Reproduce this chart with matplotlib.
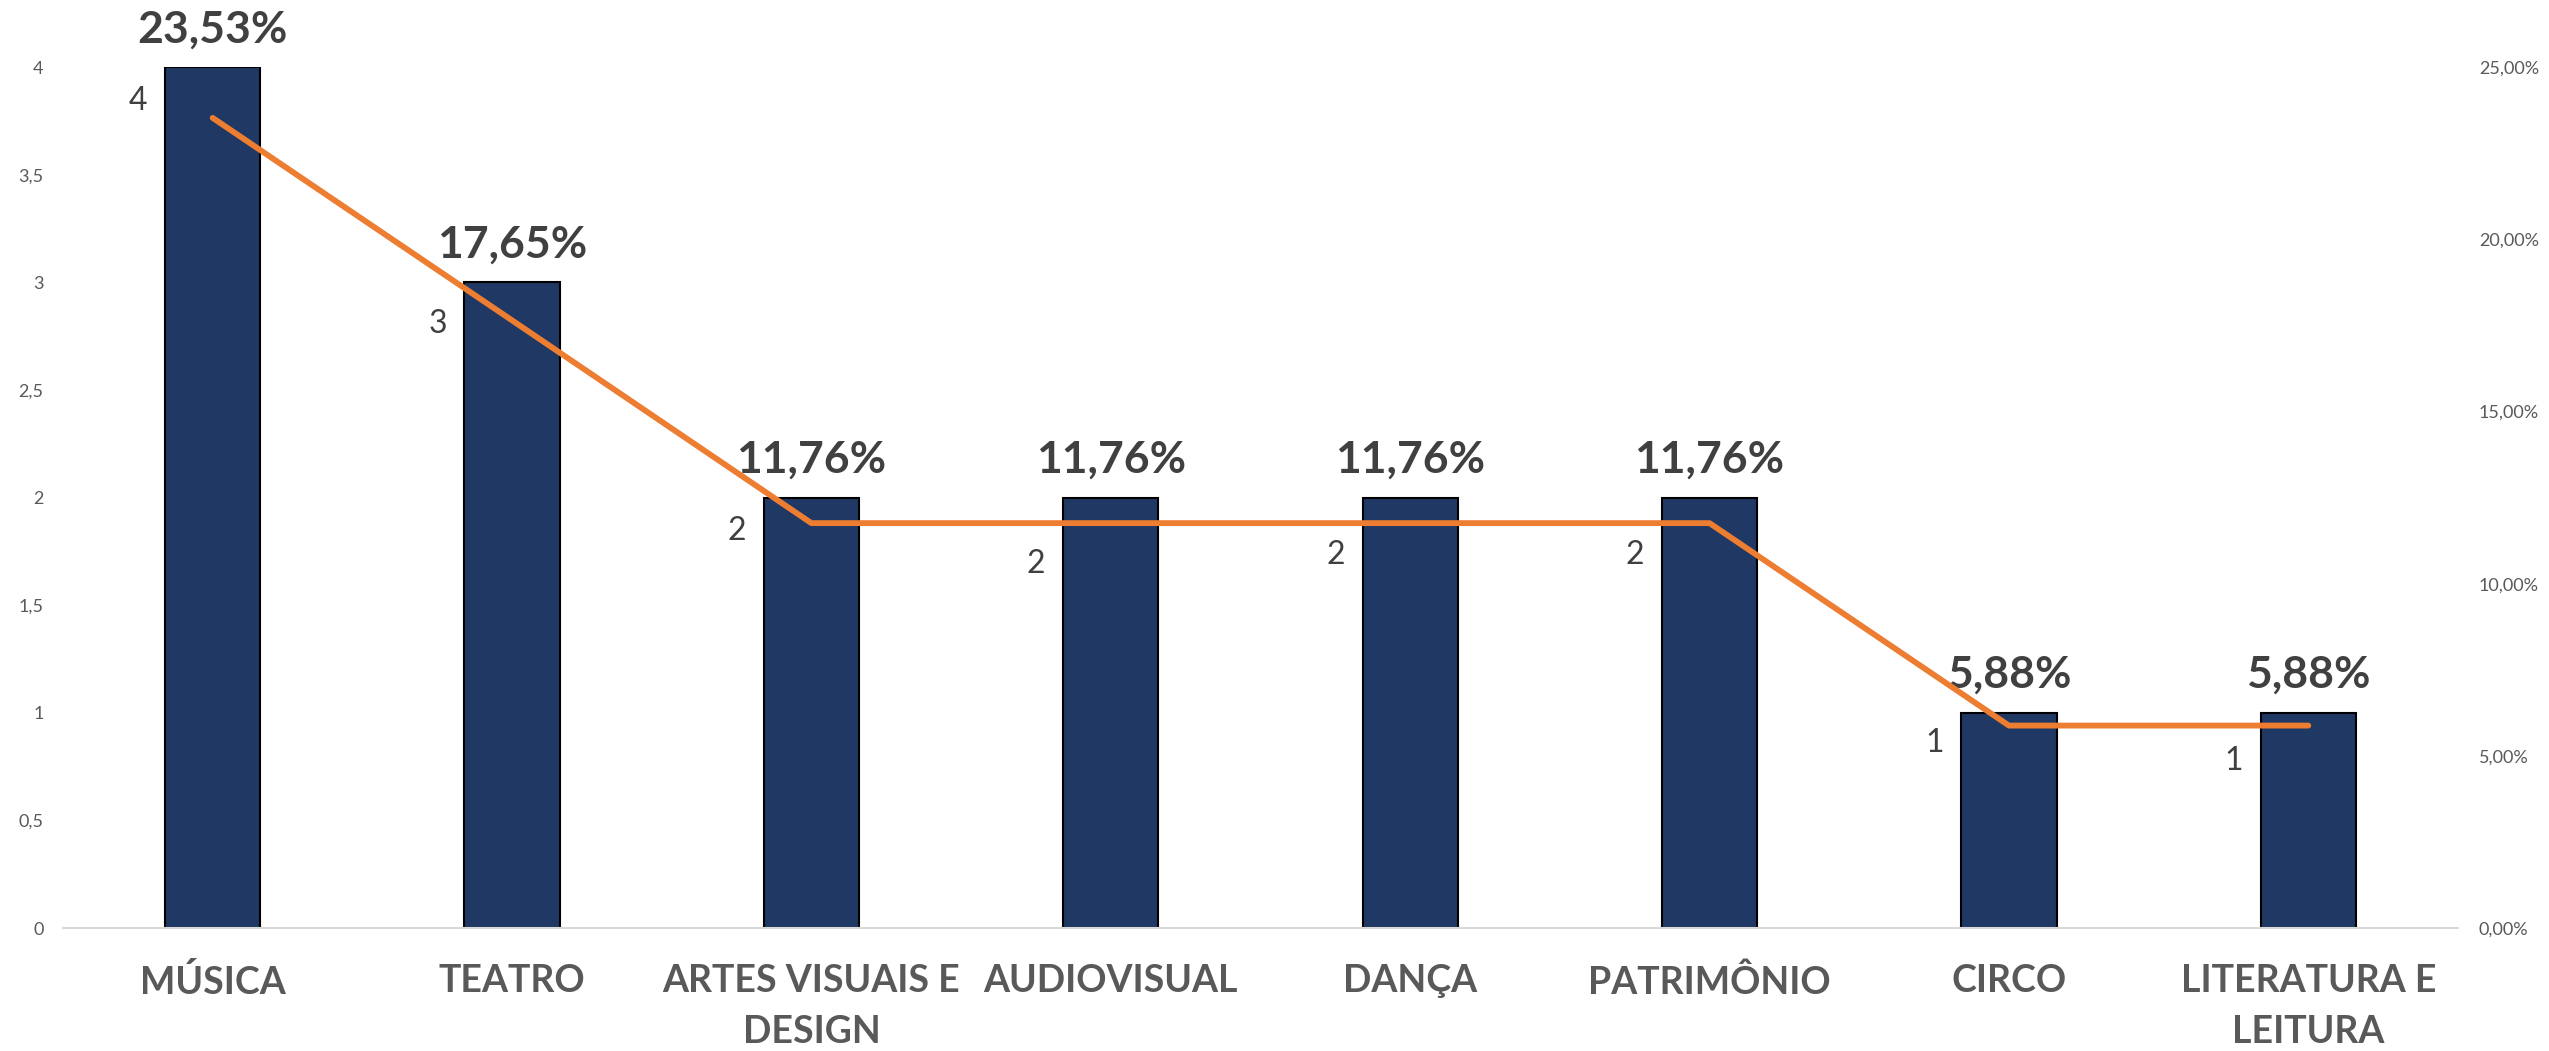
import matplotlib
matplotlib.use("Agg")
import matplotlib.pyplot as plt
from matplotlib.ticker import FuncFormatter, MultipleLocator

# data
categorias = ["MÚSICA", "TEATRO", "ARTES VISUAIS E\nDESIGN", "AUDIOVISUAL",
              "DANÇA", "PATRIMÔNIO", "CIRCO", "LITERATURA E\nLEITURA"]
quantidade = [4, 3, 2, 2, 2, 2, 1, 1]
percentual = [23.53, 17.65, 11.76, 11.76, 11.76, 11.76, 5.88, 5.88]

# how far below the bar top each count label sits (px), as in the original
desloc_rotulo = [34, 42, 33, 66, 57, 57, 30, 48]

plt.rcParams['font.family'] = ['Lato', 'DejaVu Sans']

AZUL = '#203864'
LARANJA = '#ED7D31'
CINZA_TXT = '#404040'
CINZA_EIXO = '#595959'

fig = plt.figure(figsize=(25.49, 10.51), dpi=100)
ax = fig.add_axes([0.0247, 0.117, 0.9396, 0.819])
ax2 = ax.twinx()

x = list(range(len(categorias)))
ax.bar(x, quantidade, width=0.318, color=AZUL, edgecolor='black', linewidth=1.5, zorder=2)
ax2.plot(x, percentual, color=LARANJA, linewidth=4.2, solid_capstyle='round',
         solid_joinstyle='round', zorder=3)

ax.set_xlim(-0.5, len(categorias) - 0.5)
ax.set_ylim(0, 4)
ax2.set_ylim(0, 25)
ax.yaxis.set_major_locator(MultipleLocator(0.5))
ax2.yaxis.set_major_locator(MultipleLocator(5))
ax.yaxis.set_major_formatter(FuncFormatter(lambda v, p: ('%g' % v).replace('.', ',')))
ax2.yaxis.set_major_formatter(FuncFormatter(lambda v, p: ('%.2f%%' % v).replace('.', ',')))

for a in (ax, ax2):
    for s in a.spines.values():
        s.set_visible(False)
ax.spines['bottom'].set_visible(True)
ax.spines['bottom'].set_color('#D9D9D9')
ax.spines['bottom'].set_linewidth(1.5)

ax.tick_params(axis='y', length=0, pad=14, labelsize=13, labelcolor=CINZA_EIXO)
ax2.tick_params(axis='y', length=0, pad=15, labelsize=13, labelcolor=CINZA_EIXO)
ax.set_xticks(x)
ax.set_xticklabels(categorias, fontsize=27, fontweight='bold', color=CINZA_EIXO,
                   linespacing=1.6, va='top')
ax.tick_params(axis='x', length=0, pad=26)

# percent labels above bars, count labels to the left of bars
for i in x:
    ax.annotate(('%.2f%%' % percentual[i]).replace('.', ','), (i, quantidade[i]),
                xytext=(0, 18), textcoords='offset pixels', ha='center', va='bottom',
                fontsize=32, fontweight='bold', color=CINZA_TXT)
    ax.annotate(str(quantidade[i]), (i - 0.159, quantidade[i]),
                xytext=(-27, -desloc_rotulo[i]), textcoords='offset pixels',
                ha='center', va='center', fontsize=23, color=CINZA_TXT)

fig.savefig('out.png', dpi=100, facecolor='white')
